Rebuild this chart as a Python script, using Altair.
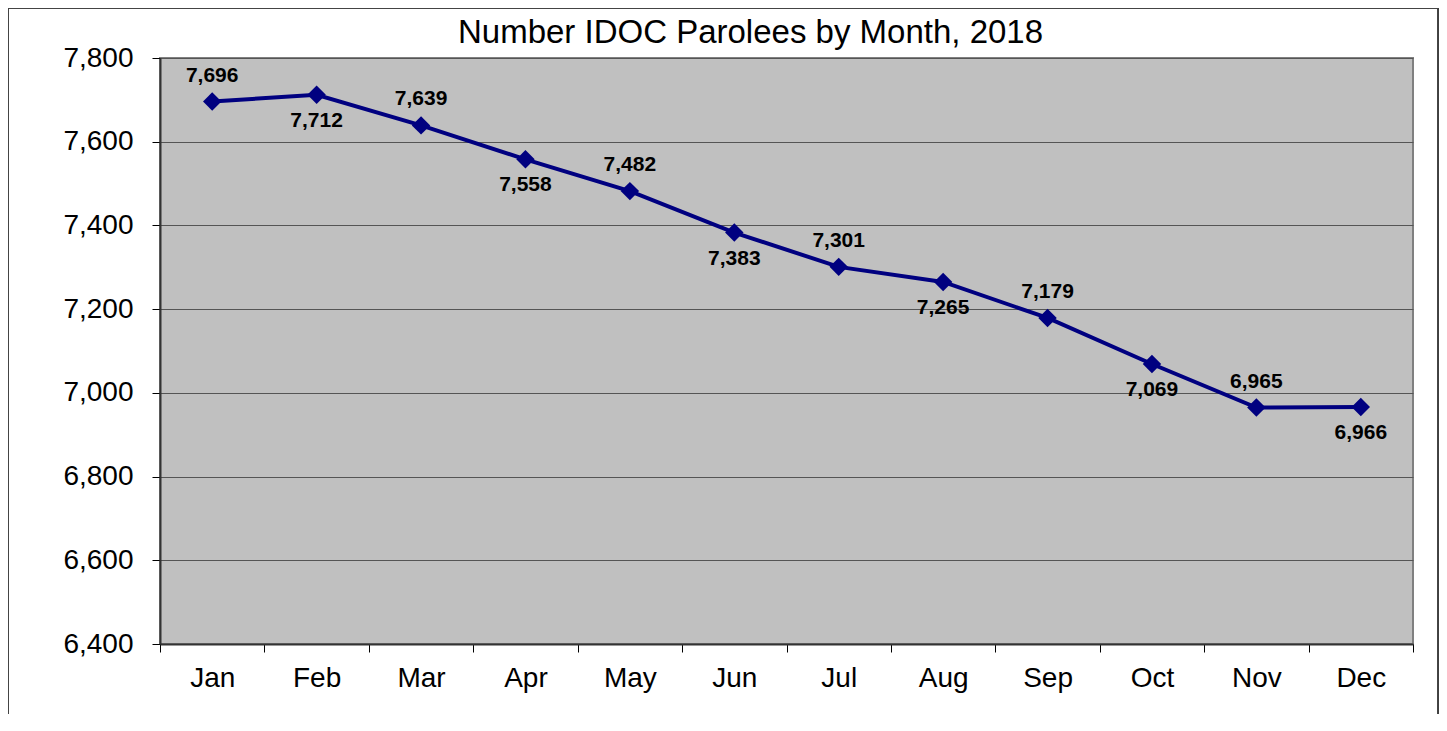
import altair as alt
import pandas as pd

months = ["Jan", "Feb", "Mar", "Apr", "May", "Jun", "Jul", "Aug", "Sep", "Oct", "Nov", "Dec"]
parolees = [7696, 7712, 7639, 7558, 7482, 7383, 7301, 7265, 7179, 7069, 6965, 6966]
y_ticks = [6400, 6600, 6800, 7000, 7200, 7400, 7600, 7800]
title_text = "Number IDOC Parolees by Month, 2018"

df = pd.DataFrame({"month": months, "value": parolees})
df["pos"] = ["above" if i % 2 == 0 else "below" for i in range(len(df))]

FONT = "Liberation Sans"

x_enc = alt.X("month:N", sort=months, title=None,
              scale=alt.Scale(paddingInner=0, paddingOuter=0),
              axis=alt.Axis(labelAngle=0, labelFontSize=28, labelFont=FONT, labelColor="black",
                            labelPadding=12, tickBand="extent", tickSize=8, tickColor="black",
                            domainColor="#333333", domainWidth=2, grid=False))
y_enc = alt.Y("value:Q", title=None,
              scale=alt.Scale(domain=[6400, 7800], nice=False, zero=False),
              axis=alt.Axis(values=y_ticks, format=",.0f", labelFontSize=28, labelFont=FONT,
                            labelColor="black", labelPadding=19, tickSize=8, tickColor="black",
                            domainColor="#333333", domainWidth=2,
                            grid=True, gridColor="#555555", gridWidth=1))

base = alt.Chart(df)

frame = base.mark_rect(fill=None, stroke="#404040", strokeWidth=1.5, clip=False).encode(
    x=alt.value(-152.5), x2=alt.value(1278.5), y=alt.value(-50.5), y2=alt.value(720)
)

line = base.mark_line(color="#000080", strokeWidth=4).encode(x=x_enc, y=y_enc)
points = base.mark_point(shape="diamond", filled=True, color="#000080", size=340, opacity=1).encode(
    x=alt.X("month:N", sort=months), y="value:Q")

lab_style = dict(font=FONT, fontSize=21, fontWeight="bold", color="black", baseline="middle")
above = base.transform_filter(alt.datum.pos == "above").mark_text(dy=-26, **lab_style).encode(
    x=alt.X("month:N", sort=months), y="value:Q", text=alt.Text("value:Q", format=",.0f"))
below = base.transform_filter(alt.datum.pos == "below").mark_text(dy=26, **lab_style).encode(
    x=alt.X("month:N", sort=months), y="value:Q", text=alt.Text("value:Q", format=",.0f"))

chart = alt.layer(frame, line, points, above, below).properties(
    width=1253, height=586,
    background="white",
    title=alt.Title(title_text, font=FONT, fontSize=33, fontWeight="normal", color="black",
                    anchor="middle", frame="group", baseline="alphabetic", offset=-69, dx=-36),
    autosize=alt.AutoSizeParams(type="none"),
    padding={"left": 152, "top": 50, "right": 26, "bottom": 70},
).configure_view(
    fill="#C0C0C0", stroke="#808080", strokeWidth=2
)

chart.save("out.html", embed_options={"renderer": "svg", "actions": False})
